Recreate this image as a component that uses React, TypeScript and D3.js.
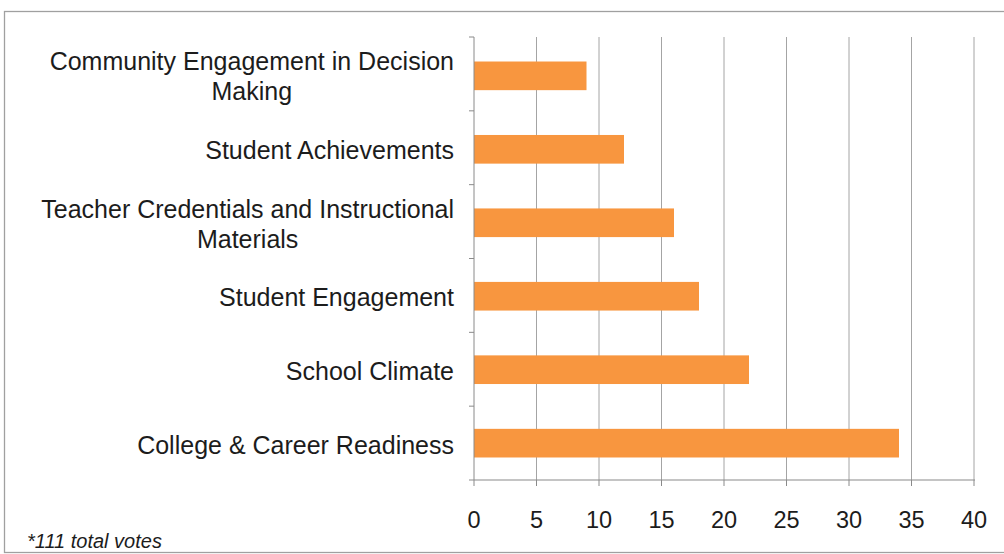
import React, { useEffect, useRef } from "react";
import * as d3 from "d3";

const categories: string[][] = [
  ["Community Engagement in Decision", "Making"],
  ["Student Achievements"],
  ["Teacher Credentials and Instructional", "Materials"],
  ["Student Engagement"],
  ["School Climate"],
  ["College & Career Readiness"],
];
const votes: number[] = [9, 12, 16, 18, 22, 34];
const xTicks: number[] = [0, 5, 10, 15, 20, 25, 30, 35, 40];
const note = "*111 total votes";

const W = 1004;
const H = 554;
const plot = { left: 474, right: 974, top: 37, bottom: 480 };
const FONT = "'Liberation Sans', Arial, Helvetica, sans-serif";

export default function App() {
  const ref = useRef<SVGSVGElement>(null);
  useEffect(() => {
    const svg = d3.select(ref.current);
    svg.selectAll("*").remove();

    const x = d3.scaleLinear().domain([0, 40]).range([plot.left, plot.right]);
    const keys = categories.map((_, i) => String(i));
    const y = d3.scaleBand<string>().domain(keys).range([plot.top, plot.bottom]).paddingInner(0.61).paddingOuter(0.32);
    const yb = d3.scaleBand<string>().domain(keys).range([plot.top, plot.bottom]);

    // frame
    svg.append("rect").attr("x", 4.5).attr("y", 11.5).attr("width", W + 10).attr("height", H - 13)
      .attr("fill", "white").attr("stroke", "#a0a0a0").attr("stroke-width", 1.3);

    // gridlines
    svg.append("g").selectAll("line").data(xTicks.slice(1)).join("line")
      .attr("x1", (d) => x(d)).attr("x2", (d) => x(d))
      .attr("y1", plot.top).attr("y2", plot.bottom)
      .attr("stroke", "#a4a4a4").attr("stroke-width", 1);

    // bars
    svg.append("g").selectAll("rect").data(votes).join("rect")
      .attr("x", x(0)).attr("y", (_, i) => (y(String(i)) as number) + 1)
      .attr("width", (d) => x(d) - x(0)).attr("height", y.bandwidth())
      .attr("fill", "#F8963F");

    // left axis
    svg.append("line").attr("x1", plot.left).attr("x2", plot.left).attr("y1", plot.top).attr("y2", plot.bottom)
      .attr("stroke", "#8a8a8a").attr("stroke-width", 1);
    const bounds = keys.map((k) => yb(k) as number).concat([plot.bottom]);
    svg.append("g").selectAll("line").data(bounds).join("line")
      .attr("x1", plot.left - 5).attr("x2", plot.left).attr("y1", (d) => d).attr("y2", (d) => d)
      .attr("stroke", "#8a8a8a");

    // bottom axis
    svg.append("line").attr("x1", plot.left).attr("x2", plot.right + 1).attr("y1", plot.bottom).attr("y2", plot.bottom)
      .attr("stroke", "#8a8a8a").attr("stroke-width", 1.2);
    svg.append("g").selectAll("line").data(xTicks).join("line")
      .attr("x1", (d) => x(d)).attr("x2", (d) => x(d)).attr("y1", plot.bottom).attr("y2", plot.bottom + 6)
      .attr("stroke", "#8a8a8a");
    svg.append("g").selectAll("text").data(xTicks).join("text")
      .attr("x", (d) => x(d)).attr("y", 528).attr("text-anchor", "middle")
      .attr("font-family", FONT).attr("font-size", 23.5).attr("fill", "#1c1c1c")
      .text((d) => String(d));

    // category labels
    const g = svg.append("g");
    categories.forEach((lines, i) => {
      const cy = (yb(String(i)) as number) + yb.bandwidth() / 2 + 1;
      const lh = 30;
      const t = g.append("text").attr("font-family", FONT).attr("font-size", 25).attr("fill", "#1c1c1c")
        .attr("text-anchor", "middle");
      const startY = cy - ((lines.length - 1) * lh) / 2 + 10;
      lines.forEach((ln, j) => {
        t.append("tspan").attr("x", 0).attr("y", startY + j * lh).text(ln);
      });
      const bb = (t.node() as SVGTextElement).getBBox();
      const cx = 454 - bb.width / 2;
      t.selectAll("tspan").attr("x", cx);
    });

    svg.append("text").attr("x", 27).attr("y", 548).attr("font-family", FONT).attr("font-style", "italic")
      .attr("font-size", 20).attr("fill", "#1c1c1c").text(note);
  }, []);
  return <svg ref={ref} width={W} height={H} style={{ display: "block", position: "absolute", left: 0, top: 0 }} />;
}
